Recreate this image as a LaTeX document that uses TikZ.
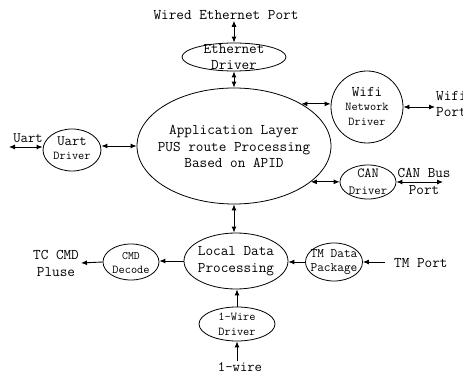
\documentclass[tikz,border=0pt]{standalone}
\usetikzlibrary{shapes.geometric,arrows.meta}
\begin{document}
\begin{tikzpicture}[x=1pt,y=-1pt,
  oval/.style={draw,ellipse,line width=0.8pt,inner sep=0pt},
  big/.style={font=\fontsize{14.8}{16.5}\selectfont\ttfamily,align=center,inner sep=1pt},
  sm/.style={font=\fontsize{12}{14.5}\selectfont\ttfamily,align=center,inner sep=1pt},
  one/.style={line width=0.9pt,-{Latex[length=6pt,width=5pt]}},
  two/.style={line width=0.9pt,{Latex[length=6pt,width=5pt]}-{Latex[length=6pt,width=5pt]}}]
\useasboundingbox (0,0) rectangle (463,374);
\clip (0,0) rectangle (463,374);

% driver and processing ellipses
\node[oval,minimum width=104pt,minimum height=28pt] (eth) at (234,57) {};
\node[oval,minimum width=194pt,minimum height=116pt] (main) at (234,146) {};
\node[oval,minimum width=72pt,minimum height=72pt] (wifi) at (367,107) {};
\node[oval,minimum width=56pt,minimum height=34pt] (can) at (368,182) {};
\node[oval,minimum width=58pt,minimum height=42pt] (uart) at (72,150) {};
\node[oval,minimum width=104pt,minimum height=56pt] (local) at (236,261) {};
\node[oval,minimum width=56pt,minimum height=36pt] (cmd) at (131,262) {};
\node[oval,minimum width=57pt,minimum height=38pt] (tmdata) at (334,262) {};
\node[oval,minimum width=76pt,minimum height=34pt] (owd) at (237,324) {};

% texts inside the ellipses
\node[big,font=\fontsize{14.8}{16}\selectfont\ttfamily] (ethtxt) at (234,57) {Ethernet\\Driver};
\node[big] (maintxt) at (234,146.5) {Application Layer\\PUS route Processing\\Based on APID};
\node[sm] (wifitxt) at (367,106) {{\fontsize{14.8}{14.5}\selectfont Wifi}\\Network\\Driver};
\node[sm,font=\fontsize{12.4}{17}\selectfont\ttfamily] (cantxt) at (368,181.5) {{\fontsize{13.9}{17}\selectfont CAN}\\Driver};
\node[sm,font=\fontsize{12}{14}\selectfont\ttfamily] (uarttxt) at (72,148) {{\fontsize{14.3}{14}\selectfont Uart}\\Driver};
\node[big,font=\fontsize{14.8}{17}\selectfont\ttfamily] (localtxt) at (236,261.5) {Local Data\\Processing};
\node[sm,font=\fontsize{12}{14}\selectfont\ttfamily] (cmdtxt) at (131,263) {{\fontsize{11.4}{14}\selectfont CMD}\\Decode};
\node[sm,font=\fontsize{13}{14}\selectfont\ttfamily] (tmdtxt) at (334,262) {TM Data\\Package};
\node[sm,font=\fontsize{12}{15}\selectfont\ttfamily] (owdtxt) at (237,324.5) {1-Wire\\Driver};

% outer port labels
\node[big] (ethport) at (226,15) {Wired Ethernet Port};
\node[big,anchor=west,align=left] (wifiport) at (435,104) {Wifi\\Port};
\node[big,font=\fontsize{14.7}{17}\selectfont\ttfamily] (canport) at (424,181.5) {CAN Bus\\Port};
\node[big,font=\fontsize{14.3}{16}\selectfont\ttfamily] (uartlbl) at (28,138) {Uart};
\node[big,font=\fontsize{14.8}{17}\selectfont\ttfamily] (tccmd) at (56,263.5) {TC CMD\\Pluse};
\node[big,anchor=west] (tmport) at (393,263) {TM Port};
\node[big,font=\fontsize{14.3}{16}\selectfont\ttfamily] (onewire) at (240,367) {1-wire};

\coordinate (uartend) at (9,147);
\coordinate (canend) at (443,182);
\coordinate (tcend) at (81,263);
\coordinate (tmstart) at (385,262);

% connectors
\draw[two] (eth.north |- ethport.south) -- (eth.north);
\draw[two] (eth.south) -- (main.north);
\draw[two] (main.32) -- (main.32 -| wifi.west);
\draw[two] (wifi.east) -- (wifi.east -| wifiport.west);
\draw[two] (main.-25) -- (main.-25 -| can.west);
\draw[two] (can.east) -- (canend);
\draw[two] (uartend) -- (uartend -| uart.west);
\draw[two] (main.west -| uart.east) -- (main.west);
\draw[two] (main.south) -- (main.south |- local.north);
\draw[one] (local.west) -- (local.west -| cmd.east);
\draw[one] (cmd.west) -- (tcend);
\draw[one] (tmdata.west) -- (tmdata.west -| local.east);
\draw[one] (tmstart) -- (tmdata.east);
\draw[one] (owd.north) -- (owd.north |- local.south);
\draw[one] (owd.south |- onewire.north) -- (owd.south);
\end{tikzpicture}
\end{document}
